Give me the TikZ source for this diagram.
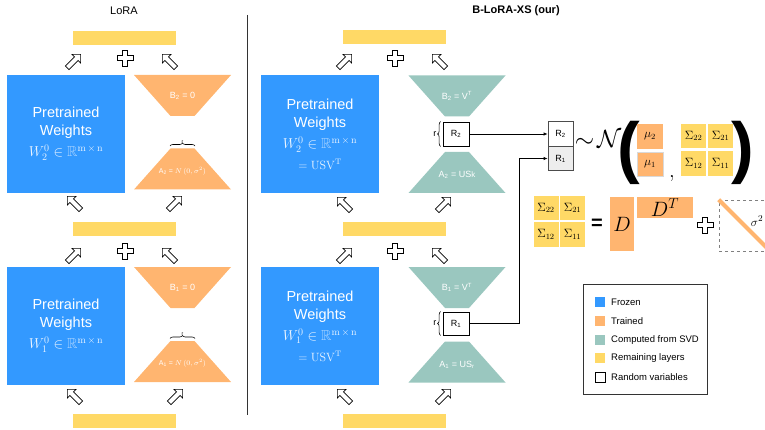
\documentclass[tikz,border=0pt]{standalone}
\usepackage{amsmath}
\usepackage{amssymb}
\usepackage[no-math]{fontspec}
\setmainfont{Liberation Sans}
\usetikzlibrary{arrows.meta, shapes.arrows, decorations.pathreplacing}

\definecolor{cfrozen}{RGB}{51,153,255}
\definecolor{ctrained}{RGB}{255,181,112}
\definecolor{csvd}{RGB}{154,199,191}
\definecolor{clayer}{RGB}{255,217,102}
\definecolor{cmath}{RGB}{236,245,255}
\definecolor{cdim}{RGB}{170,212,255}

\tikzset{
  hplus/.pic={\draw[fill=white, line width=0.8pt] (-2.5,-8) -- (2.5,-8) -- (2.5,-2.5) -- (8,-2.5) -- (8,2.5) -- (2.5,2.5) -- (2.5,8) -- (-2.5,8) -- (-2.5,2.5) -- (-8,2.5) -- (-8,-2.5) -- (-2.5,-2.5) -- cycle;},
  trapdn/.pic={\path[pic actions] (-48.5,-20.5) -- (48.5,-20.5) -- (12,20.5) -- (-12,20.5) -- cycle;},
  trapup/.pic={\path[pic actions] (-12,-20.5) -- (12,-20.5) -- (48.5,20.5) -- (-48.5,20.5) -- cycle;}
}

\begin{document}
\begin{tikzpicture}[x=1pt, y=-1pt]
\tikzstyle{frozenbox}=[fill=cfrozen, minimum width=118pt, minimum height=118pt, inner sep=0pt, text=white, align=center, font=\fontsize{14.5}{18}\selectfont]
\tikzstyle{layer}=[fill=clayer, minimum width=103pt, minimum height=14pt, inner sep=0pt]
\tikzstyle{hollow}=[single arrow, draw, fill=white, line width=0.7pt, minimum height=19pt, single arrow head extend=3.5pt, inner sep=2.2pt]
\tikzstyle{traptext}=[text=white, inner sep=0pt, font=\fontsize{9}{10}\selectfont]
\tikzstyle{rvar}=[draw, fill=white, line width=0.7pt, minimum width=26pt, minimum height=24pt, inner sep=0pt, font=\fontsize{9}{10}\selectfont]
\tikzstyle{cell}=[fill=clayer, minimum width=25pt, minimum height=24.5pt, inner sep=0pt, font=\fontsize{12}{12}\selectfont]
\tikzstyle{mubox}=[fill=ctrained, minimum width=26pt, minimum height=24.5pt, inner sep=0pt, font=\fontsize{12}{12}\selectfont]
\tikzstyle{legsq}=[minimum size=10pt, inner sep=0pt]
\tikzstyle{legtext}=[anchor=west, inner sep=0pt, font=\fontsize{9.5}{11}\selectfont]
\tikzstyle{rbrace}=[decorate, decoration={brace, amplitude=3pt}, line width=0.6pt]

\useasboundingbox (0,0) rectangle (765,430);

% titles and divider
\node[font=\fontsize{11}{12}\selectfont] (lora) at (124,11) {LoRA};
\node[font=\fontsize{11}{12}\selectfont\bfseries] (blora) at (516,11) {B-LoRA-XS (our)};
\draw[line width=1pt, black!80] (247,15) -- (247,415);

% LoRA, layer 2
\node[layer] (l2out) at (124.5,38.5) {};
\node[hollow, rotate=45] (l2wup) at (73,62) {};
\pic at (125,58) {hplus};
\node[hollow, rotate=135] (l2bup) at (170,62) {};
\node[frozenbox] (l2w) at (66,134) {Pretrained\\Weights\\[3pt]\textcolor{cmath}{$W_2^{0}\in\textcolor{cdim}{\mathbb{R}}^{\mathrm{m\,\times\,n}}$}};
\pic[fill=ctrained] at (182.5,95.5) {trapdn};
\node[traptext] (l2b) at (182.5,95.5) {B\textsubscript{2} = 0};
\pic[fill=ctrained] at (182.5,169) {trapup};
\node[traptext, font=\fontsize{7}{8}\selectfont] (l2a) at (182.5,171) {A\textsubscript{2} = $N\,(0, \sigma^2)$};
\draw[rbrace] (170,146) -- (195,146) node[midway, above=2.5pt, inner sep=0pt, font=\fontsize{5}{5}\selectfont] {r};
\node[hollow, rotate=135] (l2win) at (75,204) {};
\node[hollow, rotate=45] (l2ain) at (174,204) {};

% LoRA, layer 1
\node[layer] (l1out) at (124.5,229.5) {};
\node[hollow, rotate=45] (l1wup) at (73,256) {};
\pic at (125,251) {hplus};
\node[hollow, rotate=135] (l1bup) at (170,256) {};
\node[frozenbox] (l1w) at (66,326) {Pretrained\\Weights\\[3pt]\textcolor{cmath}{$W_1^{0}\in\textcolor{cdim}{\mathbb{R}}^{\mathrm{m\,\times\,n}}$}};
\pic[fill=ctrained] at (182.5,287.5) {trapdn};
\node[traptext] (l1b) at (182.5,287.5) {B\textsubscript{1} = 0};
\pic[fill=ctrained] at (182.5,361.5) {trapup};
\node[traptext, font=\fontsize{7}{8}\selectfont] (l1a) at (182.5,363.5) {A\textsubscript{1} = $N\,(0, \sigma^2)$};
\draw[rbrace] (170,338.5) -- (195,338.5) node[midway, above=2.5pt, inner sep=0pt, font=\fontsize{5}{5}\selectfont] {r};
\node[hollow, rotate=135] (l1win) at (75,397) {};
\node[hollow, rotate=45] (l1ain) at (175,397) {};
\node[layer] (l1in) at (124.5,421) {};

% B-LoRA-XS, layer 2
\node[layer] (x2out) at (394.5,37) {};
\node[hollow, rotate=45] (x2wup) at (344,62) {};
\pic at (395,58) {hplus};
\node[hollow, rotate=135] (x2bup) at (440,62) {};
\node[frozenbox] (x2w) at (320,134.5) {Pretrained\\Weights\\[3pt]\textcolor{cmath}{$W_2^{0}\in\textcolor{cdim}{\mathbb{R}}^{\mathrm{m\,\times\,n}}$}\\[3pt]{\fontsize{12}{14}\selectfont\textcolor{cmath}{$=\mathrm{USV}^{\mathrm{T}}$}}};
\pic[fill=csvd] at (457,96) {trapdn};
\node[traptext] (x2b) at (457,96) {B\textsubscript{2} = V\textsuperscript{T}};
\node[rvar] (r2) at (456,134) {R\textsubscript{2}};
\draw[rbrace] ([xshift=-2pt]r2.south west) -- ([xshift=-2pt]r2.north west) node[midway, left=4pt, inner sep=0pt, font=\fontsize{9}{10}\selectfont] {r};
\pic[fill=csvd] at (457,172.5) {trapup};
\node[traptext] (x2a) at (457,175) {A\textsubscript{2} = US{\fontsize{8}{9}\selectfont k}};
\node[hollow, rotate=135] (x2win) at (345,205) {};
\node[hollow, rotate=45] (x2ain) at (443,205) {};

% B-LoRA-XS, layer 1
\node[layer] (x1out) at (394.5,229.5) {};
\node[hollow, rotate=45] (x1wup) at (344,256) {};
\pic at (395,251) {hplus};
\node[hollow, rotate=135] (x1bup) at (440,256) {};
\node[frozenbox] (x1w) at (320,326) {Pretrained\\Weights\\[3pt]\textcolor{cmath}{$W_1^{0}\in\textcolor{cdim}{\mathbb{R}}^{\mathrm{m\,\times\,n}}$}\\[3pt]{\fontsize{12}{14}\selectfont\textcolor{cmath}{$=\mathrm{USV}^{\mathrm{T}}$}}};
\pic[fill=csvd] at (457,287.5) {trapdn};
\node[traptext] (x1b) at (457,287.5) {B\textsubscript{1} = V\textsuperscript{T}};
\node[rvar, minimum height=23pt] (r1) at (456,323.5) {R\textsubscript{1}};
\draw[rbrace] ([xshift=-2pt]r1.south west) -- ([xshift=-2pt]r1.north west) node[midway, left=4pt, inner sep=0pt, font=\fontsize{9}{10}\selectfont] {r};
\pic[fill=csvd] at (457,362) {trapup};
\node[traptext] (x1a) at (457,364.5) {A\textsubscript{1} = US\textsubscript{r}};
\node[hollow, rotate=135] (x1win) at (345,397) {};
\node[hollow, rotate=45] (x1ain) at (443,397) {};
\node[layer] (x1in) at (394.5,421) {};

% joint distribution of the random variables
\node[rvar, draw=black!70, minimum width=25pt, minimum height=24.5pt] (s2) at (560.5,134) {R\textsubscript{2}};
\node[rvar, draw=black!70, fill=black!7, minimum width=25pt, minimum height=24.5pt] (s1) at (560.5,158.5) {R\textsubscript{1}};
\coordinate (kink) at (519,158.5);
\draw[-{Latex[length=4pt, width=3.5pt]}, line width=0.7pt] (r2.east) -- (s2.west);
\draw[-{Latex[length=4pt, width=3.5pt]}, line width=0.7pt] (r1.east) -| (kink) -- (s1.west);

\node[font=\fontsize{24}{24}\selectfont] (dist) at (598,139) {$\sim\!\mathcal{N}$};
\node[anchor=base, inner sep=0pt, font=\fontsize{68}{68}\selectfont\bfseries] (lpar) at (629,171) {(};
\node[mubox] (mu2) at (650,136.5) {$\mu_2$};
\node[mubox, draw=black!15] (mu1) at (650,164) {$\mu_1$};
\node[anchor=base, inner sep=0pt, font=\fontsize{20}{20}\selectfont] (comma) at (672,178) {$,$};
\node[cell] (c22) at (693.5,136) {$\Sigma_{22}$};
\node[cell] (c21) at (720.5,136) {$\Sigma_{21}$};
\node[cell] (c12) at (693.5,163.5) {$\Sigma_{12}$};
\node[cell] (c11) at (720.5,163.5) {$\Sigma_{11}$};
\node[anchor=base, inner sep=0pt, font=\fontsize{68}{68}\selectfont\bfseries] (rpar) at (743,171) {)};

% covariance = D D^T + sigma^2 I
\node[cell] (e22) at (546,208) {$\Sigma_{22}$};
\node[cell] (e21) at (572.5,208) {$\Sigma_{21}$};
\node[cell] (e12) at (546,234.5) {$\Sigma_{12}$};
\node[cell] (e11) at (572.5,234.5) {$\Sigma_{11}$};
\node[font=\fontsize{20}{20}\selectfont\bfseries] (eq) at (597,224) {=};
\node[mubox, minimum width=24pt, minimum height=54pt, font=\fontsize{20}{20}\selectfont] (dmat) at (622,224) {$D$};
\node[mubox, minimum width=56pt, minimum height=21pt, font=\fontsize{20}{20}\selectfont] (dtmat) at (665,207.5) {$D^T$};
\pic at (705,225) {hplus};
\node[draw=black!50, dashed, line width=0.7pt, minimum size=51pt, inner sep=0pt] (noise) at (744.5,225.5) {};
\draw[ctrained, line width=4pt] (noise.north west) -- (noise.south east);
\node[font=\fontsize{13}{13}\selectfont] (sig) at (757,221) {$\sigma^2$};

% legend
\node[draw=black!80, line width=0.7pt, minimum width=124pt, minimum height=110pt] (legend) at (645,339) {};
\node[legsq, fill=cfrozen] (k1) at (600,302) {};
\node[legtext] (t1) at (611,302) {Frozen};
\node[legsq, fill=ctrained] (k2) at (600,321) {};
\node[legtext] (t2) at (611,321) {Trained};
\node[legsq, fill=csvd] (k3) at (600,340) {};
\node[legtext] (t3) at (611,340) {Computed from SVD};
\node[legsq, fill=clayer] (k4) at (600,358) {};
\node[legtext] (t4) at (611,358) {Remaining layers};
\node[legsq, draw, line width=0.7pt] (k5) at (600,377) {};
\node[legtext] (t5) at (611,377) {Random variables};

\end{tikzpicture}
\end{document}
